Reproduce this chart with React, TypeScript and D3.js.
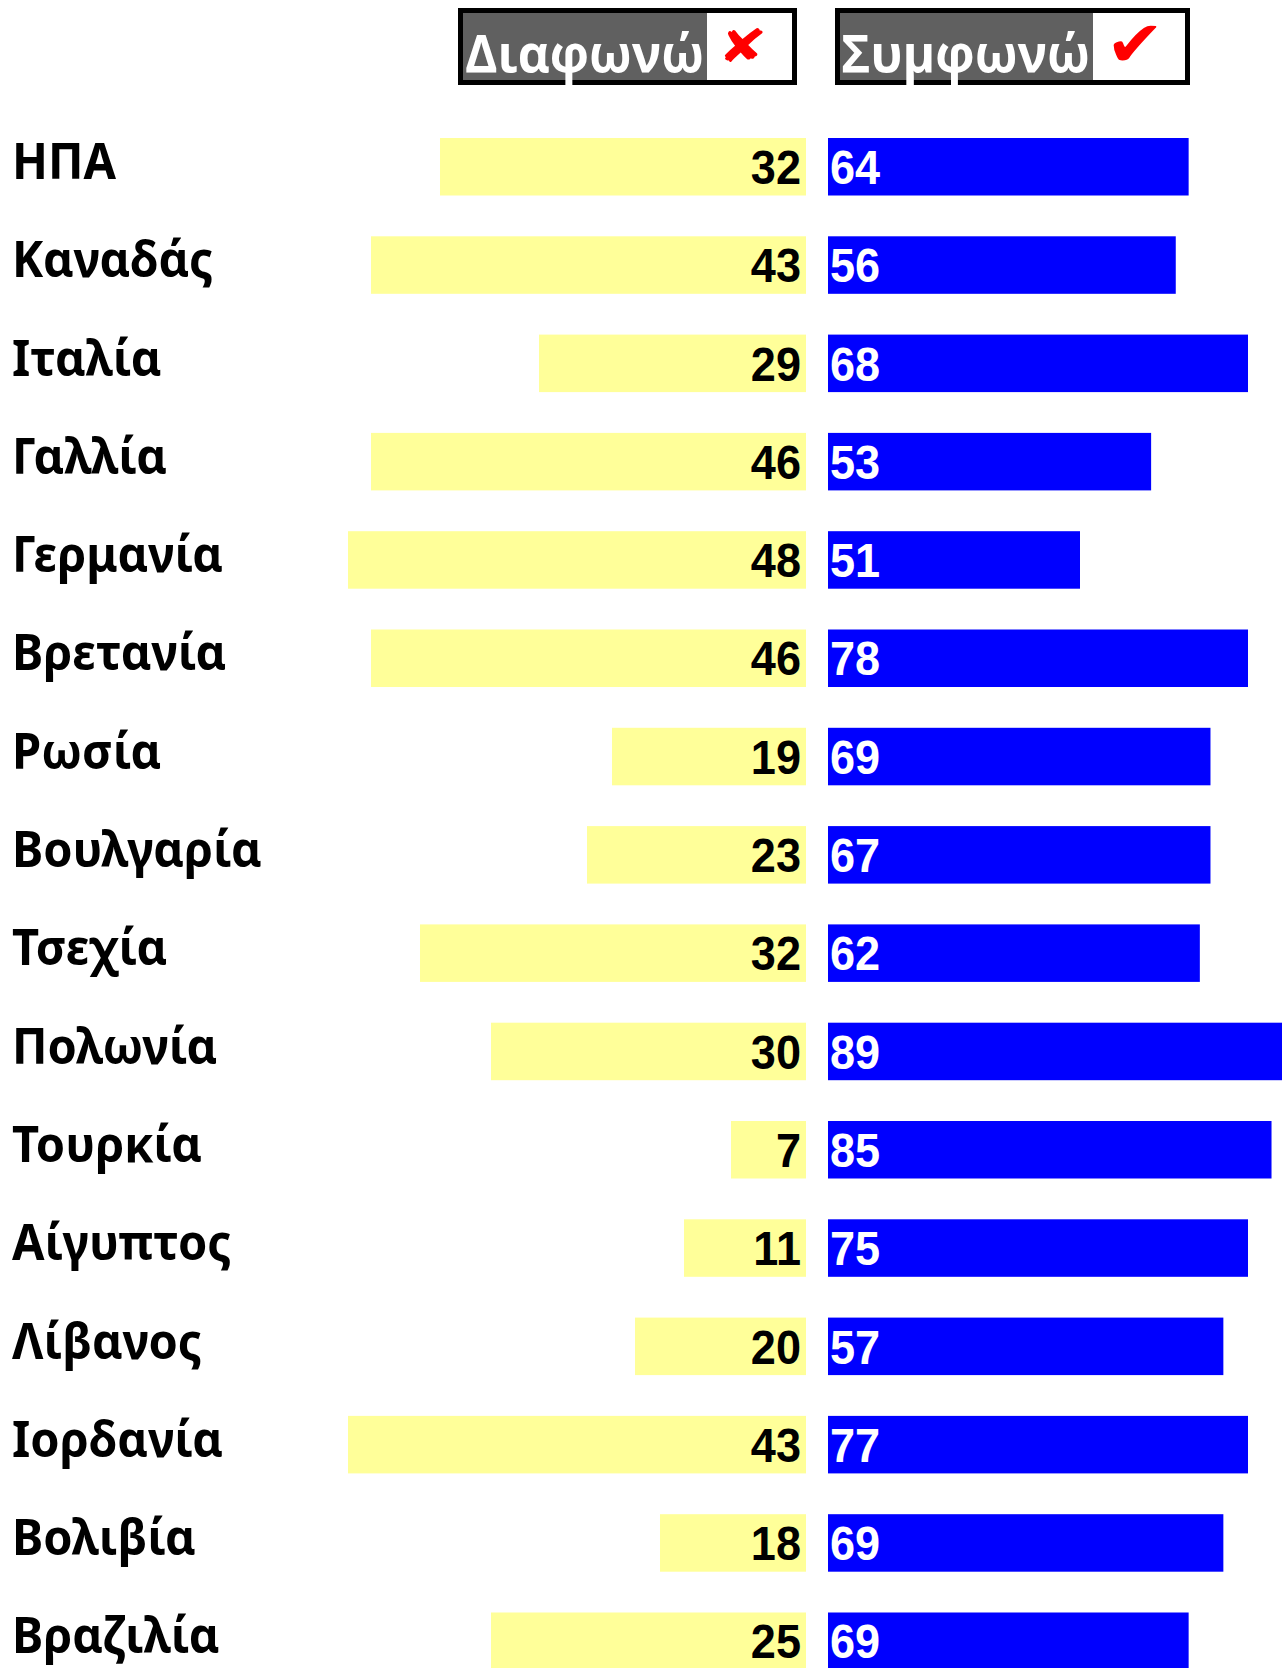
import React from "react";
import * as d3 from "d3";

// Countries (top to bottom)
const countries: string[] = [
  "ΗΠΑ", "Καναδάς", "Ιταλία", "Γαλλία", "Γερμανία", "Βρετανία", "Ρωσία", "Βουλγαρία",
  "Τσεχία", "Πολωνία", "Τουρκία", "Αίγυπτος", "Λίβανος", "Ιορδανία", "Βολιβία", "Βραζιλία",
];

// Printed figures (%)
const disagree: number[] = [32, 43, 29, 46, 48, 46, 19, 23, 32, 30, 7, 11, 20, 43, 18, 25];
const agree: number[] = [64, 56, 68, 53, 51, 78, 69, 67, 62, 89, 85, 75, 57, 77, 69, 69];

// Bar lengths as drawn in the original (the original's bars do not follow the printed figures)
const disagreeDrawn: number[] = [36.6, 43.5, 26.7, 43.5, 45.8, 43.5, 19.4, 21.9, 38.6, 31.5, 7.5, 12.2, 17.1, 45.8, 14.6, 31.5];
const agreeDrawn: number[] = [64.4, 62.1, 75, 57.7, 45, 75, 68.3, 68.3, 66.4, 82, 79.2, 75, 70.6, 75, 70.6, 64.4];

// Legend
const legendLabels: string[] = ["Διαφωνώ", "Συμφωνώ"];
const legendMarks: string[] = ["✘", "✔"];

const W = 1282;
const H = 1668;

export default function App() {
  const y = d3.scaleBand<string>().domain(countries).range([138, 1670]).paddingInner(0.415).paddingOuter(0);
  const xLeft = d3.scaleLinear().domain([0, 50]).range([806, 306]);
  const xRight = d3.scaleLinear().domain([0, 100]).range([828, 1388]);
  const bw = y.bandwidth();

  const legendBoxes = [
    { x0: 458, x1: 797, split: 707, textX: 465, textW: 239, markX: 742.5, markY: 62, markSize: 46, markSX: 1.3 },
    { x0: 835, x1: 1190, split: 1093, textX: 841, textW: 249, markX: 1135, markY: 66, markSize: 64, markSX: 1.1 },
  ];

  return (
    <svg
      width={W}
      height={H}
      viewBox={`0 0 ${W} ${H}`}
      style={{ position: "absolute", left: 0, top: 0, background: "#ffffff", overflow: "hidden" }}
    >
      <rect x={0} y={0} width={W} height={H} fill="#ffffff" />
      {/* Legend */}
      {legendBoxes.map((b, i) => (
        <g key={"lg" + i}>
          <rect x={b.x0 + 2.5} y={10.5} width={b.x1 - b.x0 - 5} height={72} fill="#ffffff" stroke="#000000" strokeWidth={5} />
          <rect x={b.x0 + 5} y={13} width={b.split - b.x0 - 5} height={67} fill="#606060" />
          <text
            x={b.textX}
            y={72}
            fill="#ffffff"
            fontFamily="'Open Sans', 'Noto Sans', sans-serif"
            fontWeight="bold"
            fontSize={52}
            textLength={b.textW}
            lengthAdjust="spacingAndGlyphs"
          >
            {legendLabels[i]}
          </text>
          <text
            transform={`translate(${b.markX},${b.markY}) scale(${b.markSX},1)`}
            fill="#ff0000"
            textAnchor="middle"
            fontFamily="'DejaVu Sans', sans-serif"
            fontWeight="bold"
            fontSize={b.markSize}
          >
            {legendMarks[i]}
          </text>
        </g>
      ))}

      {countries.map((c, i) => {
        const top = y(c) as number;
        return (
          <g key={c}>
            <text
              transform={`translate(12,${top + 41}) scale(0.94,1)`}
              fill="#000000"
              fontFamily="'Noto Sans', 'Open Sans', sans-serif"
              fontWeight="bold"
              fontSize={50}
            >
              {c}
            </text>
            <rect
              x={xLeft(disagreeDrawn[i])}
              y={top}
              width={xLeft(0) - xLeft(disagreeDrawn[i])}
              height={bw}
              fill="#ffff99"
            />
            <rect
              x={xRight(0)}
              y={top}
              width={xRight(agreeDrawn[i]) - xRight(0)}
              height={bw}
              fill="#0000ff"
            />
            <text
              transform={`translate(${xLeft(0) - 5},${top + 46}) scale(0.92,1)`}
              textAnchor="end"
              fill="#000000"
              fontFamily="'Liberation Sans', Arial, sans-serif"
              fontWeight="bold"
              fontSize={49}
            >
              {disagree[i]}
            </text>
            <text
              transform={`translate(${xRight(0) + 2},${top + 46}) scale(0.92,1)`}
              textAnchor="start"
              fill="#ffffff"
              fontFamily="'Liberation Sans', Arial, sans-serif"
              fontWeight="bold"
              fontSize={49}
            >
              {agree[i]}
            </text>
          </g>
        );
      })}
    </svg>
  );
}
